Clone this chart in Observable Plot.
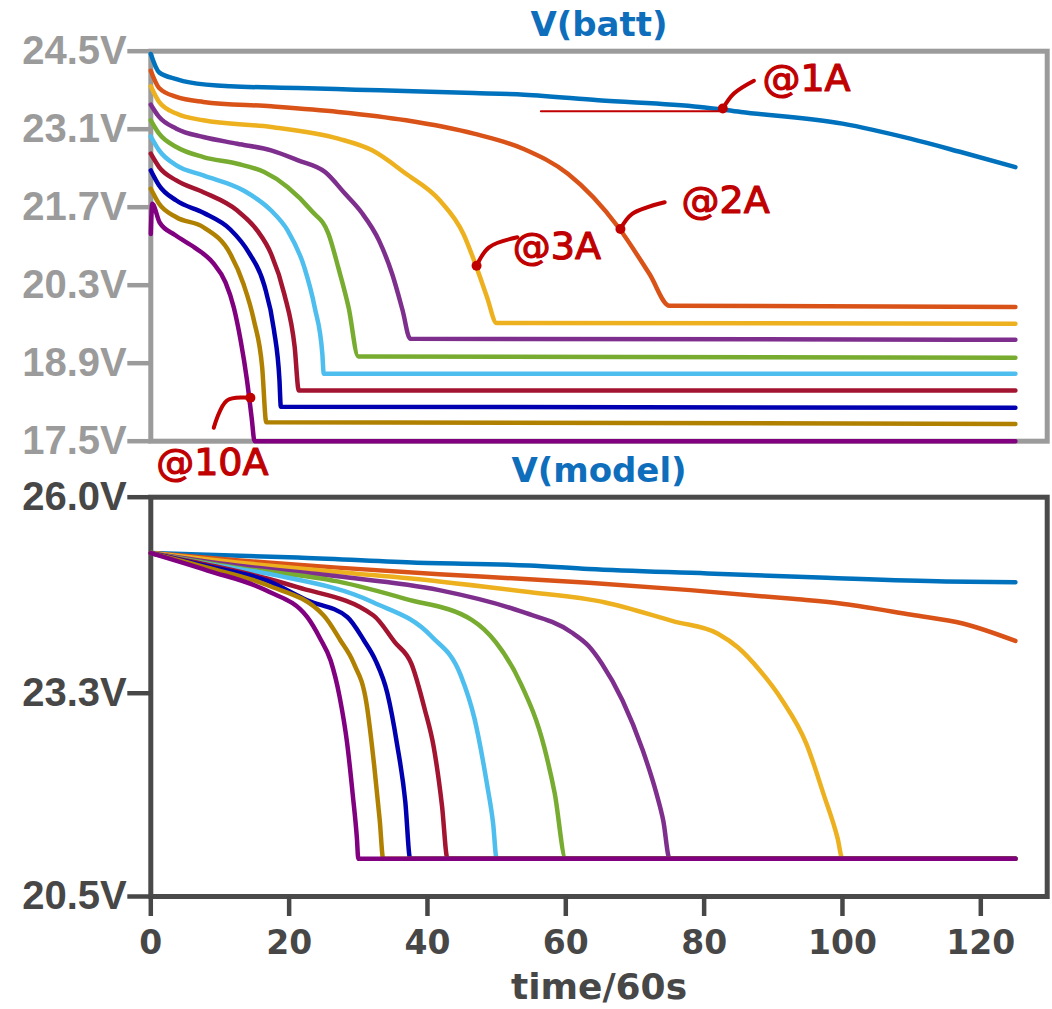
<!DOCTYPE html>
<html><head><meta charset="utf-8">
<script src="https://cdn.jsdelivr.net/npm/d3@7"></script>
<script src="https://cdn.jsdelivr.net/npm/@observablehq/plot@0.6"></script>
<style>
body{margin:0;background:#fff;}
#wrap{position:relative;width:1052px;height:1009px;overflow:hidden;background:#fff;}
#wrap svg{position:absolute;left:0;}
</style></head><body><div id="wrap"></div>
<script>
// ---- series names & colours ----
const currents = ["1A","2A","3A","4A","5A","6A","7A","8A","9A","10A"];
const traceColors = ["#0072BD","#D95319","#EDB120","#7E2F8E","#77AC30","#4DBEEE","#A2142F","#0000B0","#B08000","#800080"];

// ---- V(batt) : [time/60s, volts] ----
const batt_1A = [[0,24.45],[1.2,24.12],[3.7,24.0],[5.6,23.94],[11.5,23.87],[21.3,23.84],[29.6,23.81],[37.9,23.78],[46.7,23.75],[54,23.72],[64.7,23.62],[79.4,23.5],[85.3,23.41],[100,23.2],[109.8,22.93],[117.1,22.69],[125,22.42]];
const batt_2A = [[0,24.15],[1.2,23.84],[3.7,23.68],[7.6,23.59],[17.4,23.51],[27.1,23.41],[36.9,23.26],[46.7,23.02],[54,22.74],[60.3,22.3],[67.6,21.34],[72.1,20.5],[75,19.93],[125,19.91]];
const batt_3A = [[0,23.87],[1.2,23.59],[3.7,23.38],[7.6,23.26],[17.4,23.14],[27.1,22.93],[32,22.72],[36.9,22.3],[41.8,21.82],[45.2,21.22],[47.1,20.62],[48.6,20.09],[50,19.62],[125,19.61]];
const batt_4A = [[0,23.54],[1.2,23.32],[3.7,23.11],[7.6,22.96],[12.5,22.84],[17.4,22.72],[21.3,22.54],[25.2,22.33],[28.1,21.94],[30.5,21.6],[33,21.1],[34.9,20.5],[36.4,19.85],[37.5,19.34],[125,19.32]];
const batt_5A = [[0,23.26],[1.2,23.02],[3.7,22.78],[7.6,22.6],[12.5,22.48],[16.4,22.33],[19.8,22.06],[23.2,21.64],[25.7,21.22],[27.1,20.62],[28.6,19.9],[30,19.02],[125,19.0]];
const batt_6A = [[0,22.97],[1.2,22.72],[3.7,22.45],[7.6,22.27],[13.4,22.0],[17.4,21.64],[19.8,21.28],[22.2,20.62],[23.7,19.9],[24.8,19.07],[25,18.71],[125,18.71]];
const batt_7A = [[0,22.66],[1.2,22.42],[3.7,22.18],[7.6,21.97],[12.5,21.64],[15.4,21.28],[17.4,20.86],[19.3,20.14],[20.8,19.19],[21.4,18.41],[125,18.41]];
const batt_8A = [[0,22.36],[1.2,22.09],[3.7,21.82],[7.6,21.6],[11.5,21.3],[14.2,20.88],[16.4,20.3],[17.8,19.5],[18.6,18.6],[18.8,18.12],[125,18.1]];
const batt_9A = [[0,22.03],[1.2,21.76],[3.7,21.52],[7.6,21.34],[11.5,20.86],[13.4,20.32],[14.9,19.67],[16.1,18.83],[16.7,17.84],[125,17.81]];
const batt_10A = [[0,21.22],[0.2,21.76],[1.3,21.42],[3.5,21.2],[6.4,20.97],[9,20.7],[10.8,20.35],[12,19.9],[13,19.3],[13.9,18.6],[14.6,17.9],[15,17.5],[125,17.5]];

// ---- V(model) : [time/60s, volts] ----
const model_1A = [[0,25.23],[21.2,25.17],[37.8,25.1],[54.7,25.06],[63.3,25.01],[80.5,24.95],[97.7,24.89],[114.9,24.84],[125,24.83]];
const model_2A = [[0,25.23],[12.4,25.13],[27,25.03],[41.7,24.94],[54.7,24.87],[63.3,24.82],[78,24.72],[92.8,24.6],[100.2,24.53],[110,24.38],[117.4,24.26],[125,24.02]];
const model_3A = [[0,25.23],[12.4,25.1],[27,24.97],[41.7,24.84],[54,24.7],[65.7,24.55],[75.6,24.29],[82,24.12],[84.9,23.93],[88,23.62],[91.3,23.2],[94.8,22.6],[97.3,21.9],[99.3,21.3],[100,21.02],[125,21.02]];
const model_4A = [[0,25.23],[12.4,25.06],[27,24.91],[41.7,24.72],[53.4,24.43],[60.8,24.14],[63.3,23.95],[65.2,23.71],[68.2,23.2],[71.1,22.52],[73.1,21.92],[74.1,21.54],[75,21.02],[125,21.02]];
const model_5A = [[0,25.23],[12.4,25.03],[27,24.84],[36.8,24.6],[46.4,24.31],[49.9,24.0],[53.4,23.45],[56.9,22.55],[58.4,21.92],[60,21.02],[125,21.02]];
const model_6A = [[0,25.23],[8.2,25.08],[17.8,24.93],[32.2,24.55],[40.6,24.08],[44.8,23.55],[46.8,22.95],[48.6,22.05],[49.5,21.5],[50,21.02],[125,21.02]];
const model_7A = [[0,25.23],[8.2,25.07],[16.8,24.88],[21.2,24.76],[32.2,24.37],[35.3,24.0],[37.7,23.7],[39.6,23.08],[40.9,22.56],[42.1,21.75],[42.9,21.02],[125,21.02]];
const model_8A = [[0,25.23],[8.2,25.05],[16.8,24.85],[22.6,24.58],[28.4,24.35],[30.8,24.03],[32.5,23.75],[34.2,23.3],[35.6,22.6],[36.8,21.8],[37.5,21.02],[125,21.02]];
const model_9A = [[0,25.23],[8.2,25.03],[16.8,24.79],[25,24.37],[27.4,24.03],[29.3,23.72],[31.2,23.15],[32.3,22.3],[33.1,21.55],[33.6,21.02],[125,21.02]];
const model_10A = [[0,25.23],[8.2,24.99],[16.8,24.71],[22.6,24.35],[24.5,24.05],[26,23.75],[27.3,23.25],[28.4,22.6],[29.2,21.9],[29.8,21.3],[30,21.02],[125,21.02]];

// ---- axes ----
const xDomain = [0, 129.6];
const xTicks = [0, 20, 40, 60, 80, 100, 120];
const battDomain = [17.5, 24.5];
const battTicks = [17.5, 18.9, 20.3, 21.7, 23.1, 24.5];
const modelDomain = [20.5, 26.0];
const modelTicks = [20.5, 23.3, 26.0];
const xLabel = "time/60s";
const battTitle = "V(batt)";
const modelTitle = "V(model)";

// ---- hand-drawn annotations (data coordinates of the top panel) ----
const noteLabels = ["@1A", "@2A", "@3A", "@10A"];
const noteTextT = [94.8, 83.1, 58.7, 8.9];
const noteTextV = [24.01, 21.82, 20.98, 17.12];
const noteDotT = [82.7, 67.9, 47.1, 14.4];
const noteDotV = [23.47, 21.31, 20.65, 18.28];
const lead_1A = [[82.7,23.47],[84.3,23.74],[87.2,23.97]];
const lead_2A = [[67.9,21.31],[69.6,21.58],[74.3,21.79]];
const lead_3A = [[47.1,20.65],[48.9,20.98],[53.0,21.16]];
const lead_10A = [[14.4,18.28],[11.0,18.23],[9.1,17.74]];
const underline_1A = [[56.4,23.42],[82.3,23.42]];

// ---- build tables ----
const battSeries = [batt_1A,batt_2A,batt_3A,batt_4A,batt_5A,batt_6A,batt_7A,batt_8A,batt_9A,batt_10A];
const modelSeries = [model_1A,model_2A,model_3A,model_4A,model_5A,model_6A,model_7A,model_8A,model_9A,model_10A];
const toRows = list => currents.flatMap((c, i) => list[i].map(([t, v]) => ({series: c, t, v})));
const battRows = toRows(battSeries);
const modelRows = toRows(modelSeries);
const leadRows = [lead_1A, lead_2A, lead_3A, lead_10A].flatMap((l, i) => l.map(([t, v]) => ({k: noteLabels[i], t, v})));
const underRows = underline_1A.map(([t, v]) => ({t, v}));
const notes = noteLabels.map((s, i) => ({s, tt: noteTextT[i], tv: noteTextV[i], dt: noteDotT[i], dv: noteDotV[i]}));

const RED = "#C00000";
const TITLE = "#0E6EBC";
const colorScale = {domain: currents, range: traceColors};
const fmtV = d => d.toFixed(1) + "V";
const yFont = {fontSize: 40, fontFamily: "'Liberation Sans', Arial, sans-serif", fontWeight: "bold"};
const common = {width: 1052, marginLeft: 150.3, marginRight: 5.3, style: {background: "transparent", overflow: "visible"}};

const topPlot = Plot.plot({
  ...common,
  height: 490, marginTop: 50.7, marginBottom: 49.3,
  x: {domain: xDomain, axis: null},
  y: {domain: battDomain, axis: null},
  color: colorScale,
  marks: [
    Plot.frame({stroke: "#9b9b9b", strokeWidth: 5}),
    Plot.axisY({ticks: battTicks, tickFormat: fmtV, tickSize: 23, tickPadding: 1, color: "#9b9b9b", strokeWidth: 4.5, label: null, ...yFont}),
    Plot.line(battRows, {x: "t", y: "v", z: "series", stroke: "series", strokeWidth: 4.5, curve: "monotone-x"}),
    Plot.text([battTitle], {text: d => d, frameAnchor: "top", dy: -15.7, lineAnchor: "bottom", fill: TITLE, fontSize: 34, fontWeight: "bold", fontFamily: "'DejaVu Sans', sans-serif"}),
    Plot.line(underRows, {x: "t", y: "v", stroke: RED, strokeWidth: 2}),
    Plot.line(leadRows, {x: "t", y: "v", z: "k", stroke: RED, strokeWidth: 4, curve: "catmull-rom", strokeLinecap: "round"}),
    Plot.dot(notes, {x: "dt", y: "dv", r: 5, fill: RED}),
    Plot.text(notes, {x: "tt", y: "tv", text: "s", fill: RED, stroke: RED, strokeWidth: 1.2, fontSize: 38, fontFamily: "'DejaVu Sans', sans-serif", textAnchor: "middle", lineAnchor: "middle"})
  ]
});
topPlot.style.top = "0px";

const bottomPlot = Plot.plot({
  ...common,
  height: 549, marginTop: 36.7, marginBottom: 113,
  x: {domain: xDomain},
  y: {domain: modelDomain},
  color: colorScale,
  marks: [
    Plot.frame({stroke: "#4a4a4a", strokeWidth: 5}),
    Plot.axisY({ticks: modelTicks, tickFormat: fmtV, tickSize: 23, tickPadding: 1, color: "#474747", strokeWidth: 4.5, label: null, ...yFont}),
    Plot.axisX({ticks: xTicks, tickFormat: d => String(d), tickSize: 20, tickPadding: 14, color: "#474747", strokeWidth: 4.5, label: null, fontSize: 33, fontFamily: "'DejaVu Sans', sans-serif", fontWeight: "bold"}),
    Plot.line(modelRows, {x: "t", y: "v", z: "series", stroke: "series", strokeWidth: 4.5, curve: "monotone-x"}),
    Plot.text([modelTitle], {text: d => d, frameAnchor: "top", dy: -15.5, lineAnchor: "bottom", fill: TITLE, fontSize: 34, fontWeight: "bold", fontFamily: "'DejaVu Sans', sans-serif"}),
    Plot.text([xLabel], {text: d => d, frameAnchor: "bottom", dy: 91, lineAnchor: "middle", fill: "#474747", fontSize: 36, fontWeight: "bold", fontFamily: "'DejaVu Sans', sans-serif"})
  ]
});
bottomPlot.style.top = "460px";

const wrap = document.getElementById("wrap");
wrap.appendChild(topPlot);
wrap.appendChild(bottomPlot);
</script></body></html>
